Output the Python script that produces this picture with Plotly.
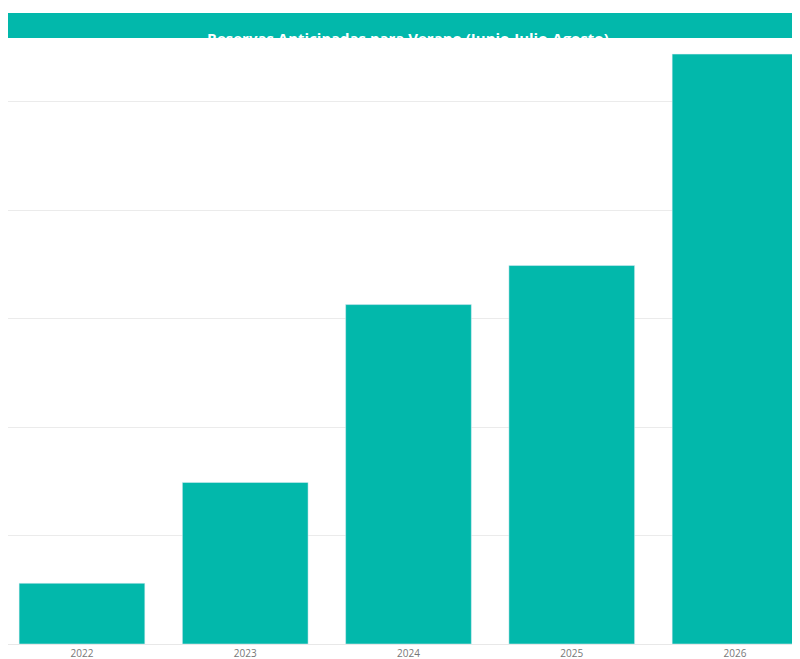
import plotly.graph_objects as go

years = ["2022", "2023", "2024", "2025", "2026"]
values = [0.56, 1.49, 3.13, 3.49, 5.44]

fig = go.Figure(go.Bar(x=list(range(len(years))), y=values, marker_color="#02B8AB",
                       width=0.77, hoverinfo="skip"))
fig.update_layout(
    width=800, height=659, plot_bgcolor="white", paper_bgcolor="white",
    margin=dict(l=0, r=0, t=32, b=23), showlegend=False,
    xaxis=dict(range=[-0.453, 4.447], tickvals=list(range(len(years))), ticktext=years,
               showgrid=False, zeroline=False, showline=True, linecolor="#E8E8E8",
               tickfont=dict(family="Open Sans", size=10, color="#777777")),
    yaxis=dict(range=[0, 5.57], dtick=1, showticklabels=False, gridcolor="#EBEBEB",
               zeroline=False),
    shapes=[dict(type="rect", xref="paper", yref="paper", x0=0, x1=1,
                 y0=(659-30-32-604)/604 + 1, y1=1.06, line_width=0, fillcolor="#02B8AB", layer="below")],
)
# title band in pixel terms
fig.layout.shapes = []
fig.add_shape(type="rect", xref="paper", yref="paper", x0=0, x1=1,
              y0=1 + 2/604, y1=1 + 27/604, line_width=0, fillcolor="#02B8AB")
fig.add_annotation(text="<b>Reservas Anticipadas para Verano (Junio-Julio-Agosto)</b>",
                   xref="paper", yref="paper", x=0.5, y=1 + 14.5/604, showarrow=False,
                   font=dict(family="Open Sans", size=15, color="white"))
fig.write_html("out.html")
